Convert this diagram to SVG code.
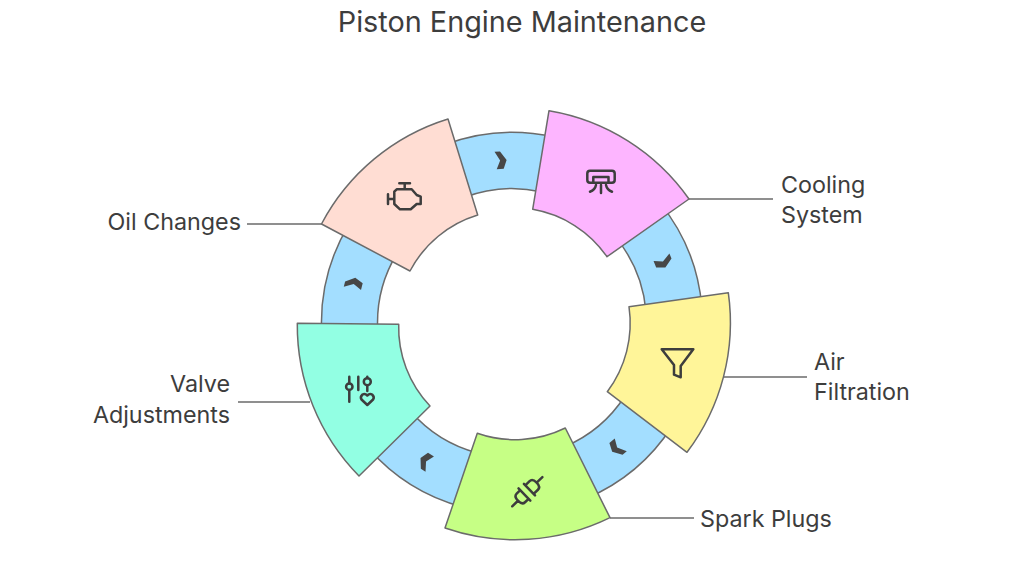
<svg xmlns="http://www.w3.org/2000/svg" width="1024" height="576" viewBox="0 0 1024 576">
<style>
text{font-family:Inter,"Noto Sans","Liberation Sans",sans-serif;fill:#3d3d3d;font-size:23.300px}
.t{font-size:28.800px;text-anchor:middle}
.e{text-anchor:end}
.n{stroke:#6b6b6b;stroke-width:1.5;stroke-linejoin:round}
.l{stroke:#6b6b6b;stroke-width:1.3;fill:none}
.i{fill:none;stroke:#3d3d3d;stroke-width:2.5;stroke-linecap:round;stroke-linejoin:round}
.s{fill:#a3deff;stroke:#6b6b6b;stroke-width:1.5}
.c{fill:#474747}
</style>
<defs>
<path id="seg" d="M-55.7 -182.2A190.5 190.5 0 0 1 55.7 -182.2L39.3 -128.6A134.5 134.5 0 0 0 -39.3 -128.6Z"/>
<path id="chev" d="M-5.500 -9L0 -9L6 0L2.500 8.500L-4.500 8.500L-.5 0Z"/>
</defs>
<rect width="1024" height="576" fill="#fff"/>
<text class="t" x="522" y="32">Piston Engine Maintenance</text>
<g id="connectors">
<g transform="translate(512 323)">
<use href="#seg" class="s" transform="rotate(-4)"/>
<use href="#seg" class="s" transform="rotate(68)"/>
<use href="#seg" class="s" transform="rotate(140)"/>
<use href="#seg" class="s" transform="rotate(212)"/>
<use href="#seg" class="s" transform="rotate(284)"/>
<use href="#chev" class="c" transform="rotate(-4) translate(0 -163)"/>
<use href="#chev" class="c" transform="rotate(68) translate(0 -163)"/>
<use href="#chev" class="c" transform="rotate(140) translate(0 -163)"/>
<use href="#chev" class="c" transform="rotate(212) translate(0 -163)"/>
<use href="#chev" class="c" transform="rotate(284) translate(0 -163)"/>
</g>
<path class="l" d="M247 224H321.500M689 199H773M724 377H807M610 518H694M238 402H310"/>
</g>
<g id="oil-changes">
<path class="n" fill="#ffddd3" d="M321.500 224A215 215 0 0 1 448 119L477.700 215A114 114 0 0 0 410 271Z"/>
<path class="i" d="M399.300 183.300H410M404.700 183.300V189.300M396.700 189.300H411.700L416.700 195L420.700 196.700V204H416.700L410.700 209.300H400L394.300 204V191.700ZM388 194.300V204M388 199H394.300"/>
<text class="e" x="241" y="229.500">Oil Changes</text>
</g>
<g id="cooling-system">
<path class="n" fill="#fdb5ff" d="M549 110.700A215 215 0 0 1 689 199L607 256.700A114 114 0 0 0 532.700 209.300Z"/>
<path class="i" d="M590 170.700H612Q614.700 170.700 614.700 173.500V180Q614.700 182.700 612 182.700H590Q587.300 182.700 587.300 180V173.500Q587.300 170.700 590 170.700ZM593.300 182V177H608.500V182M601 185V193M596 185Q595 190 590 191.700M606 185Q607 190 612 191.700"/>
<text x="781" y="192.500">Cooling</text>
<text x="781" y="223">System</text>
</g>
<g id="air-filtration">
<path class="n" fill="#fff599" d="M728.300 292.700A215 215 0 0 1 687 452.300L607.300 391.700A114 114 0 0 0 629 306.700Z"/>
<path class="i" d="M661.700 349.300H693.300L680.700 366V377.300L674 374.700V365Z"/>
<text x="814" y="369.500">Air</text>
<text x="814" y="400">Filtration</text>
</g>
<g id="spark-plugs">
<path class="n" fill="#c6ff85" d="M610 517.700A215 215 0 0 1 445 528L477.300 433.300A114 114 0 0 0 565.300 428Z"/>
<g transform="translate(527.300 491.700) rotate(-44)">
<path class="i" d="M-21 0H-13M-4 -8.500V8.500M-4 -6H-9Q-13 -6 -13 0Q-13 6 -9 6H-4M3 -8V8M3 -6H9Q13 -6 13 0Q13 6 9 6H3M13 0H21"/>
</g>
<text x="700" y="526.500">Spark Plugs</text>
</g>
<g id="valve-adjustments">
<path class="n" fill="#92ffe3" d="M359 476A215 215 0 0 1 297.300 323.300L398.700 324.300A114 114 0 0 0 430 406Z"/>
<path class="i" d="M349.300 376.700V383.500M349.300 390V401.700M358.300 376.700V390M367.300 376.700V378M367.300 385.200V391"/>
<circle class="i" cx="349.300" cy="386.700" r="3.200"/>
<circle class="i" cx="367.300" cy="381.700" r="3.500"/>
<path class="i" d="M367.300 405L361.500 399.500Q359.800 397 362.500 394.500Q365 393.200 367.300 395.500Q369.600 393.200 372.100 394.500Q374.800 397 373.100 399.500Z"/>
<text class="e" x="230" y="392">Valve</text>
<text class="e" x="230" y="423">Adjustments</text>
</g>
</svg>
